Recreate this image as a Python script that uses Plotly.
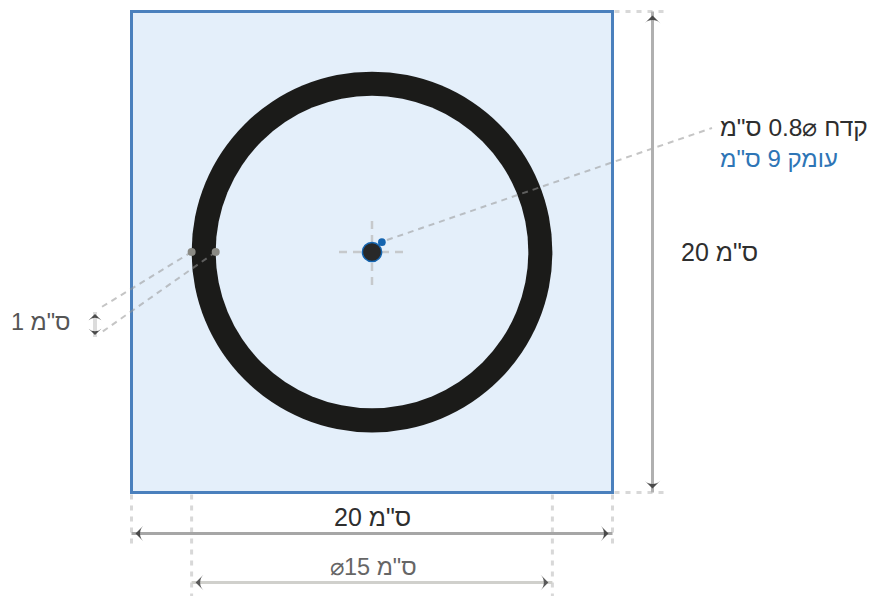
import plotly.graph_objects as go

# ---- data (cm) ----
plate_size = [20]
ring_diameter = [15]
ring_width = [1]
hole_diameter = [0.8]
hole_depth = [9]
labels_plate = ['20 ס"מ']
label_ring = ['⌀15 ס"מ']
label_width = ['1 ס"מ']
label_hole = ['קדח ⌀0.8 ס"מ']
label_depth = ['עומק 9 ס"מ']

# ---- drawing scale ----
W, H = 871, 596
SCALE = 24.05
CX, CY = 372, 252
PX = 1 / SCALE
P = plate_size[0] / 2
R = ring_diameter[0] / 2
r_in = R - ring_width[0]
h = hole_diameter[0] / 2

GREY_EXT = "#d8d8d8"
LEADER = "rgba(150,150,150,0.55)"
FONT = "Liberation Sans"

fig = go.Figure()


def line(xs, ys, color, width, dash="solid", shape="linear"):
    fig.add_trace(go.Scatter(x=xs, y=ys, mode="lines", hoverinfo="skip",
                             line=dict(color=color, width=width, dash=dash, shape=shape)))


def heads(xs, ys, angles, color="#555555", size=11):
    fig.add_trace(go.Scatter(x=xs, y=ys, mode="markers", hoverinfo="skip",
                             marker=dict(symbol="arrow-wide", size=size, angle=angles, color=color,
                                         standoff=0, line=dict(width=0))))


def label(x, y, text, color, size=22):
    fig.add_annotation(x=x, y=y, text=text, showarrow=False, xanchor="center", yanchor="middle",
                       font=dict(family=FONT, size=size, color=color))


shapes = [
    dict(type="rect", layer="below", x0=-P, x1=P, y0=-P, y1=P, fillcolor="#e4effa",
         line=dict(color="#4a80bd", width=3)),
    dict(type="circle", layer="below", x0=-R, x1=R, y0=-R, y1=R, fillcolor="#1b1b19", line=dict(width=0)),
    dict(type="circle", layer="below", x0=-r_in, x1=r_in, y0=-r_in, y1=r_in, fillcolor="#e4effa",
         line=dict(width=0)),
    # hole and depth marker on top of the centre cross
    dict(type="circle", layer="above", x0=-h, x1=h, y0=-h, y1=h, fillcolor="#282828",
         line=dict(color="#1565b0", width=1.5)),
    dict(type="circle", layer="above", x0=h + 0.01 - 0.16, x1=h + 0.01 + 0.16, y0=h + 0.01 - 0.16,
         y1=h + 0.01 + 0.16, fillcolor="#1565b0", line=dict(width=0)),
]
fig.update_layout(shapes=shapes)

# centre cross
line([-33 * PX, 33 * PX], [0, 0], "#c6c9cc", 2.5, "8px,6px")
line([0, 0], [-33 * PX, 33 * PX], "#c6c9cc", 2.5, "8px,6px")

# extension lines
line([P + 2 * PX, P + 56 * PX], [P, P], GREY_EXT, 3, "5px,6px")
line([P + 2 * PX, P + 56 * PX], [-P, -P], GREY_EXT, 3, "5px,6px")
for xv in (-P, P):
    line([xv, xv], [-P - 2 * PX, -P - 56 * PX], GREY_EXT, 3, "5px,6px")
for xv in (-R, R):
    line([xv, xv], [-P - 2 * PX, -P - 104 * PX], GREY_EXT, 3, "5px,6px")

# leaders
line([15 * PX, 340 * PX], [12 * PX, 124 * PX], LEADER, 2, "6px,5px")
line([-R, -272 * PX], [0, -56 * PX], LEADER, 2, "6px,5px")
line([-r_in, -270 * PX], [0, -80 * PX], LEADER, 2, "6px,5px")

# ring width dots
fig.add_trace(go.Scatter(x=[-R, -r_in], y=[0, 0], mode="markers", hoverinfo="skip",
                         marker=dict(size=8, color="#8a8a84", line=dict(width=0))))

# dimension lines
line([P + 40 * PX, P + 40 * PX], [-P, P], "#b0b0b0", 3)
heads([P + 40 * PX], [P - 4 * PX], [0], "#4a4a4a")
heads([P + 40 * PX], [-P + 4 * PX], [180], "#4a4a4a")

y_dim = -P - 41 * PX
line([-P, P], [y_dim, y_dim], "#a6a6a6", 3)
heads([-P + 4 * PX], [y_dim], [270], "#4a4a4a")
heads([P - 4 * PX], [y_dim], [90], "#4a4a4a")

y_dim2 = -P - 90 * PX
line([-R, R], [y_dim2, y_dim2], "#d0d0cc", 3)
heads([-R + 4 * PX], [y_dim2], [270], "#5a5a5a")
heads([R - 4 * PX], [y_dim2], [90], "#5a5a5a")

x_w = -277 * PX
line([x_w, x_w], [-60 * PX, -85 * PX], "#dcdcdc", 4)
heads([x_w], [-62 * PX], [0], "#4a4a4a", 9)
heads([x_w], [-83 * PX], [180], "#4a4a4a", 9)

# text
label(P + 107 * PX, 0, labels_plate[0], "#2e2e2e", 25)
label(0, -P - 24 * PX, labels_plate[0], "#2e2e2e", 25)
label(1 * PX, -P - 74 * PX, label_ring[0], "#666666", 23.5)
label(-331 * PX, -70 * PX, label_width[0], "#555555", 23.5)
label(422 * PX, 125 * PX, label_hole[0], "#2e2e2e", 24.5)
label(407 * PX, 94 * PX, label_depth[0], "#2e75b6", 24)

fig.update_layout(
    width=W, height=H, margin=dict(l=0, r=0, t=0, b=0), showlegend=False,
    paper_bgcolor="white", plot_bgcolor="white",
    xaxis=dict(range=[-CX * PX, (W - CX) * PX], visible=False, fixedrange=True),
    yaxis=dict(range=[-(H - CY) * PX, CY * PX], visible=False, fixedrange=True),
)

fig.write_html("out.html", config={"displayModeBar": False},
               post_script="document.body.style.margin='0';document.body.style.overflow='hidden';")
